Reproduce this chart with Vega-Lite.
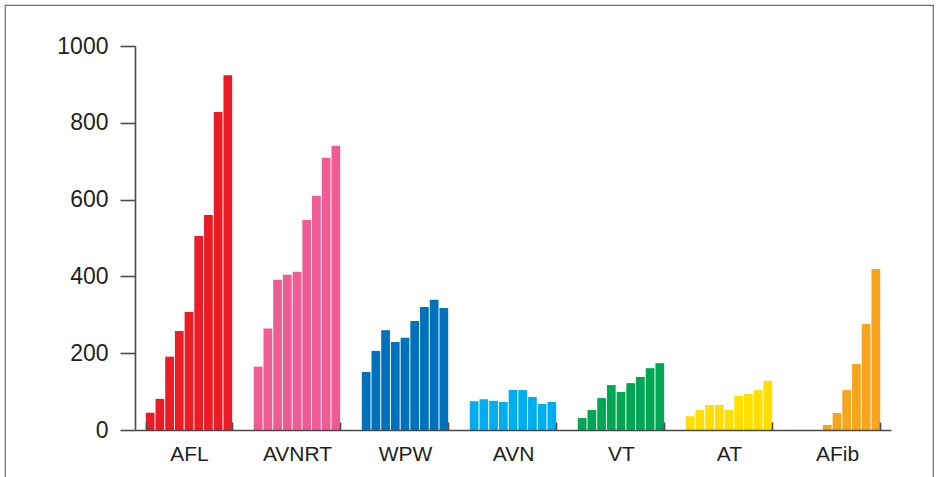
{
  "$schema": "https://vega.github.io/schema/vega-lite/v6.json",
  "width": 928,
  "height": 477,
  "autosize": "none",
  "padding": {"left": 5, "top": 5, "right": 5, "bottom": -5},
  "background": "white",
  "config": {"view": {"stroke": "#6d6d6d", "strokeWidth": 1.2}},
  "data": {"values": [
    {"cond": "AFL", "year": 1, "value": 45}, {"cond": "AFL", "year": 2, "value": 81}, {"cond": "AFL", "year": 3, "value": 191}, {"cond": "AFL", "year": 4, "value": 258}, {"cond": "AFL", "year": 5, "value": 307}, {"cond": "AFL", "year": 6, "value": 505}, {"cond": "AFL", "year": 7, "value": 560}, {"cond": "AFL", "year": 8, "value": 828}, {"cond": "AFL", "year": 9, "value": 924},
    {"cond": "AVNRT", "year": 1, "value": 165}, {"cond": "AVNRT", "year": 2, "value": 264}, {"cond": "AVNRT", "year": 3, "value": 391}, {"cond": "AVNRT", "year": 4, "value": 404}, {"cond": "AVNRT", "year": 5, "value": 412}, {"cond": "AVNRT", "year": 6, "value": 547}, {"cond": "AVNRT", "year": 7, "value": 610}, {"cond": "AVNRT", "year": 8, "value": 709}, {"cond": "AVNRT", "year": 9, "value": 740},
    {"cond": "WPW", "year": 1, "value": 151}, {"cond": "WPW", "year": 2, "value": 206}, {"cond": "WPW", "year": 3, "value": 260}, {"cond": "WPW", "year": 4, "value": 229}, {"cond": "WPW", "year": 5, "value": 240}, {"cond": "WPW", "year": 6, "value": 284}, {"cond": "WPW", "year": 7, "value": 320}, {"cond": "WPW", "year": 8, "value": 339}, {"cond": "WPW", "year": 9, "value": 318},
    {"cond": "AVN", "year": 1, "value": 75}, {"cond": "AVN", "year": 2, "value": 80}, {"cond": "AVN", "year": 3, "value": 76}, {"cond": "AVN", "year": 4, "value": 73}, {"cond": "AVN", "year": 5, "value": 104}, {"cond": "AVN", "year": 6, "value": 104}, {"cond": "AVN", "year": 7, "value": 86}, {"cond": "AVN", "year": 8, "value": 68}, {"cond": "AVN", "year": 9, "value": 73},
    {"cond": "VT", "year": 1, "value": 31}, {"cond": "VT", "year": 2, "value": 52}, {"cond": "VT", "year": 3, "value": 83}, {"cond": "VT", "year": 4, "value": 117}, {"cond": "VT", "year": 5, "value": 99}, {"cond": "VT", "year": 6, "value": 122}, {"cond": "VT", "year": 7, "value": 138}, {"cond": "VT", "year": 8, "value": 161}, {"cond": "VT", "year": 9, "value": 174},
    {"cond": "AT", "year": 1, "value": 36}, {"cond": "AT", "year": 2, "value": 52}, {"cond": "AT", "year": 3, "value": 65}, {"cond": "AT", "year": 4, "value": 65}, {"cond": "AT", "year": 5, "value": 52}, {"cond": "AT", "year": 6, "value": 89}, {"cond": "AT", "year": 7, "value": 94}, {"cond": "AT", "year": 8, "value": 104}, {"cond": "AT", "year": 9, "value": 128},
    {"cond": "AFib", "year": 4, "value": 13}, {"cond": "AFib", "year": 5, "value": 44}, {"cond": "AFib", "year": 6, "value": 104}, {"cond": "AFib", "year": 7, "value": 172}, {"cond": "AFib", "year": 8, "value": 276}, {"cond": "AFib", "year": 9, "value": 419}
  ]},
  "mark": {"type": "bar"},
  "encoding": {
    "x": {
      "field": "cond", "type": "nominal",
      "sort": ["AFL", "AVNRT", "WPW", "AVN", "VT", "AT", "AFib"],
      "scale": {"range": [130, 886], "paddingInner": 0.2, "paddingOuter": 0.1},
      "axis": {
        "title": null, "labelAngle": 0, "orient": "bottom", "offset": -52,
        "tickBand": "extent", "tickSize": -8, "labelPadding": 21,
        "domainColor": "#4a4a4a", "domainWidth": 1.6, "tickColor": "#4a4a4a", "tickWidth": 1.6,
        "labelFont": "Liberation Sans", "labelFontSize": 21, "labelColor": "#231f20",
        "zindex": 1
      }
    },
    "xOffset": {
      "field": "year", "type": "ordinal",
      "scale": {"domain": [1, 2, 3, 4, 5, 6, 7, 8, 9], "paddingInner": 0.1, "paddingOuter": 0}
    },
    "y": {
      "field": "value", "type": "quantitative",
      "scale": {"domain": [0, 1000], "range": [425, 41], "nice": false, "zero": true},
      "axis": {
        "title": null, "values": [0, 200, 400, 600, 800, 1000], "format": "d", "grid": false,
        "offset": -130, "tickSize": 15, "labelPadding": 12,
        "domainColor": "#4a4a4a", "domainWidth": 1.6, "tickColor": "#4a4a4a", "tickWidth": 1.6,
        "labelFont": "Liberation Sans", "labelFontSize": 23, "labelColor": "#231f20",
        "zindex": 1
      }
    },
    "color": {
      "field": "cond", "type": "nominal", "legend": null,
      "scale": {
        "domain": ["AFL", "AVNRT", "WPW", "AVN", "VT", "AT", "AFib"],
        "range": ["#ED1C24", "#EF5B93", "#0071BC", "#00AEEF", "#00A651", "#FFDE00", "#F8A51D"]
      }
    }
  }
}
